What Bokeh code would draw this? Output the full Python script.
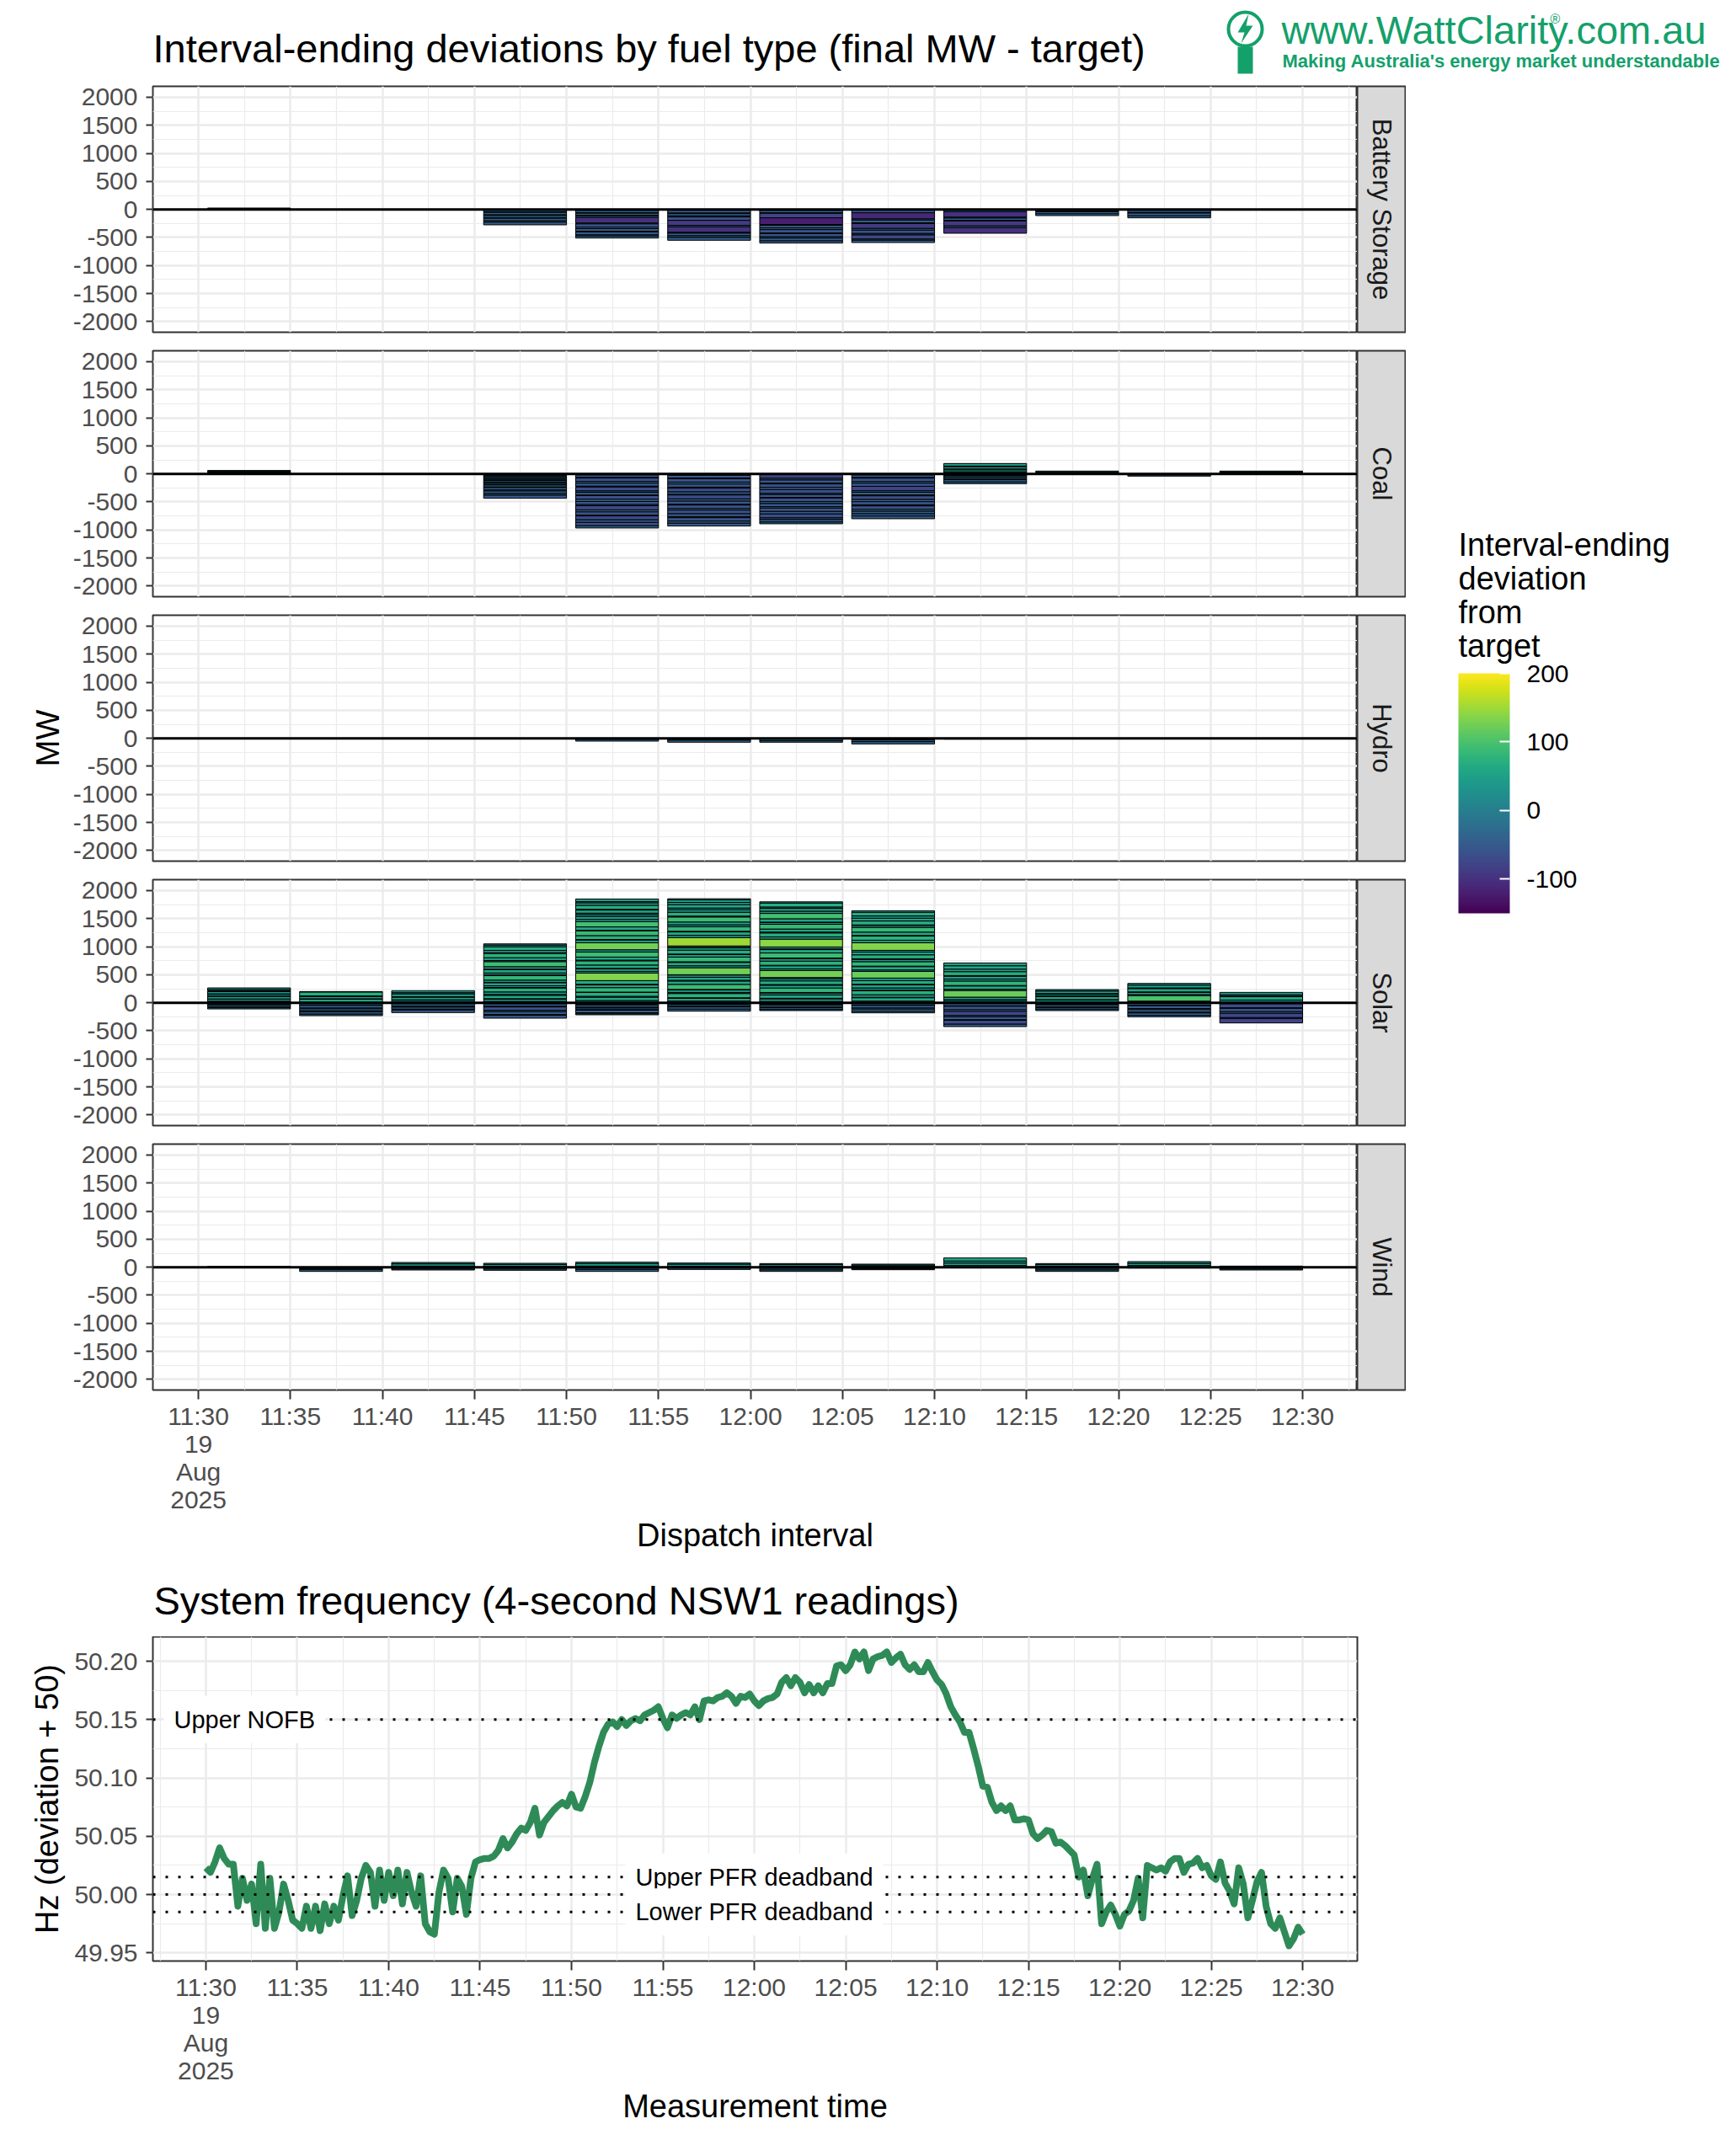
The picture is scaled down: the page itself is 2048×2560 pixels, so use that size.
from math import pi
from bokeh.plotting import figure
from bokeh.models import (ColumnDataSource, LinearColorMapper, ColorBar, FixedTicker,
                          Span, Label, Range1d, Grid)
from bokeh.layouts import row, column
from bokeh.palettes import Viridis256
from bokeh.transform import linear_cmap
from bokeh.embed import file_html
from bokeh.resources import INLINE

FONT = "Liberation Sans"
GREEN_LOGO = "#14A06B"

# ---------------- data ----------------
interval_starts = ["11:30", "11:35", "11:40", "11:45", "11:50", "11:55",
                   "12:00", "12:05", "12:10", "12:15", "12:20", "12:25"]
x_tick_labels = ["11:30\n19\nAug\n2025", "11:35", "11:40", "11:45", "11:50", "11:55",
                 "12:00", "12:05", "12:10", "12:15", "12:20", "12:25", "12:30"]
fuels = ["Battery Storage", "Coal", "Hydro", "Solar", "Wind"]

# per-unit deviations (MW) for each dispatch interval
battery_units = [
    [5, 8, 12],
    [],
    [],
    [-15, -30, -8, -40, -20, -35, -10, -45, -25, -47],
    [-20, -40, -8, -35, -10, -30, -100, -15, -60, -25, -45, -12, -55, -20, -35],
    [-15, -50, -10, -40, -20, -60, -90, -25, -100, -15, -45, -30, -50],
    [-20, -40, -10, -80, -120, -15, -45, -30, -60, -12, -55, -25, -50, -38],
    [-15, -45, -110, -20, -50, -10, -90, -30, -60, -25, -75, -20, -40],
    [-10, -30, -100, -15, -40, -10, -90, -30, -100],
    [-10, -25, -8, -35, -32],
    [-15, -40, -10, -50, -35],
    [-5, -8],
]
coal_units = [
    [8, 12, 6, 10, 14, 10],
    [],
    [],
    [-10, -15, -8, -20, -12, -25, -6, -18, -10, -30, -15, -22, -8, -35, -12, -40, -20, -45, -30, -54],
    [-20, -45, -10, -60, -30, -55, -15, -70, -25, -50, -8, -65, -40, -55, -20, -75, -35, -60, -12,
     -70, -45, -60, -40],
    [-25, -50, -12, -60, -35, -55, -20, -65, -45, -10, -70, -40, -55, -15, -60, -30, -65, -50, -20,
     -60, -38, -50],
    [-80, -30, -55, -15, -60, -40, -70, -20, -50, -10, -65, -35, -55, -25, -60, -45, -70, -30, -45, -30],
    [-20, -45, -12, -60, -30, -55, -80, -25, -50, -15, -65, -40, -55, -20, -60, -35, -45, -40, -48],
    [10, 20, 8, 35, 15, 40, 12, 45, -8, -15, -5, -25, -10, -30, -12, -40, -30],
    [8, 12, 10, 20],
    [-8, -12, -20],
    [10, 15, 8, 17],
]
hydro_units = [
    [], [], [], [],
    [-20, -30],
    [-10, -25, -35],
    [-15, -30, -25],
    [-10, -20, -30, -40],
    [-5, -10],
    [], [], [],
]
solar_units = [
    [20, 8, 35, 5, 45, 10, 30, 6, 40, 12, 25, 29, -5, -12, -20, -8, -30, -10, -25],
    [10, 55, 6, 40, 12, 70, 7, -10, -30, -8, -45, -15, -35, -20, -40, -27],
    [15, 30, 8, 45, 12, 50, 20, 35, -12, -8, -40, -20, -35, -15, -45],
    [25, 40, 8, 60, 15, 45, 70, 10, 30, 55, 6, 40, 80, 12, 35, 60, 8, 45, 90, 20, 50, 75, 15, 40, 65,
     30, 21, -20, -45, -10, -60, -25, -50, -15, -50],
    [40, 60, 15, 70, 5, 80, 50, 10, 65, 135, 30, 45, 8, 60, 75, 12, 55, 90, 40, 125, 50, 8, 70, 85,
     10, 60, 95, 40, 50, 35, 25, 55, 15, 70, 45, 20, 47, -10, -25, -5, -40, -15, -30, -8, -45, -20, -17],
    [30, 50, 10, 75, 20, 45, 8, 90, 60, 12, 55, 40, 5, 125, 35, 60, 10, 85, 45, 8, 70, 40, 25, 10,
     150, 40, 60, 12, 80, 35, 50, 90, 15, 70, 45, 30, 60, 40, 45, 20, -8, -20, -5, -30, -12, -40, -35],
    [25, 45, 10, 60, 35, 8, 80, 50, 12, 65, 40, 20, 125, 30, 55, 8, 75, 45, 10, 90, 60, 12, 35, 140,
     40, 70, 15, 55, 85, 30, 8, 60, 95, 40, 50, 25, 70, 22, -10, -25, -6, -35, -15, -30, -19],
    [30, 60, 8, 45, 70, 12, 40, 55, 10, 65, 45, 120, 25, 60, 8, 80, 40, 12, 70, 50, 30, 135, 45, 75,
     10, 60, 85, 35, 8, 70, 50, 40, 65, 27, -10, -30, -8, -45, -20, -40, -27],
    [15, 30, 10, 45, 120, 20, 60, 8, 80, 35, 50, 12, 70, 45, 60, 50, -15, -40, -8, -60, -30, -75, -20,
     -55, -10, -70, -42],
    [10, 40, 6, 55, 15, 30, 8, 45, 26, -8, -25, -5, -35, -12, -30, -25],
    [10, 20, 100, 15, 40, 8, 60, 12, 50, 30, -10, -35, -8, -50, -20, -45, -15, -40, -27],
    [8, 40, 60, 10, 25, 42, -20, -70, -10, -60, -30, -75, -15, -80],
]
wind_units = [
    [5, 10],
    [-10, -15, -20, -30],
    [20, 40, 25, -15, -20, -15],
    [15, 35, 20, -10, -25, -20],
    [20, 45, 25, -15, -25, -35],
    [15, 40, 20, -15, -25],
    [20, 30, 15, -20, -30, -25],
    [15, 25, 15, -10, -20, -15],
    [30, 45, 35, 55, -10],
    [20, 30, 15, -20, -30, -25],
    [30, 40, 30, -15],
    [8, 12, -15, -20, -15],
]
fuel_units = [battery_units, coal_units, hydro_units, solar_units, wind_units]

colour_low, colour_high = -150, 200
colour_ticks = [-100, 0, 100, 200]
colour_title = ["Interval-ending", "deviation", "from", "target"]
mw_ticks = [-2000, -1500, -1000, -500, 0, 500, 1000, 1500, 2000]

# NSW1 frequency, read every 15 seconds from 11:30
freq_step_min = 0.25
freq_hz = [
    50.023, 50.019, 50.028, 50.040, 50.031, 50.026, 50.026, 49.990, 50.014, 49.995,
    50.009, 49.975, 50.026, 49.971, 50.014, 49.971, 49.985, 50.009, 49.995, 49.978,
    49.975, 49.971, 49.990, 49.971, 49.990, 49.969, 49.992, 49.975, 49.990, 49.978,
    49.999, 50.016, 49.982, 49.995, 50.014, 50.025, 50.019, 49.990, 50.021, 49.995,
    50.019, 49.999, 50.021, 49.992, 50.019, 50.002, 49.990, 50.016, 49.975, 49.968,
    49.966, 50.002, 50.021, 50.014, 49.985, 50.014, 50.007, 49.983, 50.014, 50.028,
    50.030, 50.031, 50.031, 50.033, 50.038, 50.048, 50.040, 50.045, 50.052, 50.057,
    50.055, 50.062, 50.074, 50.051, 50.062, 50.067, 50.072, 50.076, 50.079, 50.076,
    50.086, 50.075, 50.074, 50.084, 50.096, 50.113, 50.127, 50.139, 50.146, 50.148,
    50.144, 50.150, 50.145, 50.149, 50.151, 50.149, 50.154, 50.156, 50.158, 50.161,
    50.151, 50.143, 50.154, 50.151, 50.154, 50.156, 50.154, 50.161, 50.150, 50.166,
    50.167, 50.166, 50.169, 50.170, 50.173, 50.170, 50.164, 50.170, 50.169, 50.172,
    50.166, 50.162, 50.166, 50.168, 50.169, 50.172, 50.182, 50.186, 50.179, 50.186,
    50.182, 50.173, 50.180, 50.173, 50.179, 50.173, 50.181, 50.181, 50.196, 50.197,
    50.192, 50.197, 50.208, 50.202, 50.208, 50.192, 50.202, 50.204, 50.205, 50.208,
    50.199, 50.203, 50.206, 50.197, 50.193, 50.197, 50.191, 50.191, 50.199, 50.191,
    50.184, 50.180, 50.172, 50.161, 50.154, 50.148, 50.139, 50.139, 50.125, 50.110,
    50.093, 50.092, 50.079, 50.072, 50.076, 50.072, 50.076, 50.064, 50.064, 50.065,
    50.064, 50.052, 50.048, 50.051, 50.055, 50.054, 50.044, 50.045, 50.042, 50.038,
    50.034, 50.015, 50.021, 49.999, 50.014, 50.026, 49.975, 49.985, 49.991, 49.983,
    49.973, 49.983, 49.986, 49.995, 50.014, 49.980, 50.025, 50.023, 50.021, 50.023,
    50.020, 50.028, 50.031, 50.031, 50.019, 50.026, 50.027, 50.031, 50.023, 50.025,
    50.016, 50.013, 50.028, 50.010, 50.003, 49.992, 50.023, 50.009, 49.980, 49.995,
    50.011, 50.019, 49.990, 49.975, 49.971, 49.980, 49.968, 49.956, 49.962, 49.972,
    49.966,
]
hz_ticks = [49.95, 50, 50.05, 50.1, 50.15, 50.2]
hz_tick_labels = ["49.95", "50.00", "50.05", "50.10", "50.15", "50.20"]
ref_lines = [50.15, 50.015, 50.0, 49.985]
ref_labels = [("Upper NOFB", 50.15, -2.3, "left"),
              ("Upper PFR deadband", 50.015, 30.0, "center"),
              ("Lower PFR deadband", 49.985, 30.0, "center")]

# ---------------- helpers ----------------
def to_min(s):
    h, m = s.split(":")
    return int(h) * 60 + int(m) - (11 * 60 + 30)

interval_min = [to_min(s) for s in interval_starts]
x_major = list(range(0, 61, 5))
x_minor = [v + 2.5 for v in range(-5, 61, 5)]
x_over = {t: lab for t, lab in zip(x_major, x_tick_labels)}
y_minor = [v + 250 for v in range(-2500, 2001, 500)]

GRID = "#EBEBEB"
TICKC = "#333333"
TXT = "#4D4D4D"

W_TOTAL = 2048
LEFT = 181
FRAME_W = 1430
STRIP_W = 58
PANEL_H = 292
PAD_T = 11
GAP_B = 11
AXIS_B = 210
HEAD_H = 91


def style_y(ax, ticks, over, label=None, standoff=6):
    ax.ticker = FixedTicker(ticks=ticks)
    ax.major_label_overrides = over
    ax.axis_line_color = None
    ax.major_tick_line_color = TICKC
    ax.major_tick_line_width = 2
    ax.major_tick_out = 8
    ax.major_tick_in = 0
    ax.minor_tick_line_color = None
    ax.major_label_text_font = FONT
    ax.major_label_text_font_size = "30px"
    ax.major_label_text_color = TXT
    ax.major_label_standoff = 10
    if label:
        ax.axis_label = label
        ax.axis_label_text_font = FONT
        ax.axis_label_text_font_size = "38px"
        ax.axis_label_text_font_style = "normal"
        ax.axis_label_text_color = "black"
        ax.axis_label_standoff = standoff


def style_x(ax, label):
    ax.ticker = FixedTicker(ticks=x_major, minor_ticks=x_minor)
    ax.major_label_overrides = x_over
    ax.axis_line_color = None
    ax.major_tick_line_color = TICKC
    ax.major_tick_line_width = 2
    ax.major_tick_out = 11
    ax.major_tick_in = 0
    ax.minor_tick_line_color = None
    ax.major_label_text_font = FONT
    ax.major_label_text_font_size = "30px"
    ax.major_label_text_color = TXT
    ax.major_label_text_line_height = 1.0
    ax.major_label_standoff = 3
    ax.axis_label = label
    ax.axis_label_text_font = FONT
    ax.axis_label_text_font_size = "38px"
    ax.axis_label_text_font_style = "normal"
    ax.axis_label_text_color = "black"
    ax.axis_label_standoff = 2


def style_grid(g, ticker):
    g.ticker = ticker
    g.grid_line_color = GRID
    g.grid_line_width = 2.5
    g.minor_grid_line_color = GRID
    g.minor_grid_line_width = 1.2


def blank_fig(w, h, xr, yr):
    f = figure(width=w, height=h, x_range=Range1d(*xr), y_range=Range1d(*yr),
               output_backend="svg", toolbar_location=None,
               x_axis_location=None, y_axis_location=None,
               min_border_left=0, min_border_right=0, min_border_top=0, min_border_bottom=0)
    f.grid.visible = False
    f.outline_line_color = None
    f.background_fill_color = "white"
    f.border_fill_color = "white"
    return f


def stack_source(units):
    L, R, B, T, V = [], [], [], [], []
    for start, vals in zip(interval_min, units):
        pos, neg = 0, 0
        for v in vals:
            if v >= 0:
                b, t = pos, pos + v
                pos = t
            else:
                b, t = neg + v, neg
                neg = b
            L.append(start + 0.5)
            R.append(start + 5.0)
            B.append(b)
            T.append(t)
            V.append(v)
    return ColumnDataSource(dict(left=L, right=R, bottom=B, top=T, value=V))


def make_facet(name, units, bottom_axis, ylabel):
    bb = AXIS_B if bottom_axis else GAP_B
    p = figure(width=LEFT + FRAME_W, height=PAD_T + PANEL_H + bb,
               x_range=Range1d(-2.475, 62.975), y_range=Range1d(-2190, 2195),
               output_backend="svg", toolbar_location=None,
               x_axis_location="below" if bottom_axis else None, y_axis_location="left",
               min_border_left=LEFT, min_border_right=0, min_border_top=PAD_T, min_border_bottom=bb)
    p.background_fill_color = "white"
    p.border_fill_color = "white"
    p.outline_line_color = TICKC
    p.outline_line_width = 2
    style_y(p.yaxis[0], mw_ticks, {t: str(t) for t in mw_ticks}, "MW" if ylabel else None, 6)
    style_grid(p.ygrid[0], FixedTicker(ticks=mw_ticks, minor_ticks=y_minor))
    xt = FixedTicker(ticks=x_major, minor_ticks=x_minor)
    if bottom_axis:
        style_x(p.xaxis[0], "Dispatch interval")
    if len(p.xgrid) > 0:
        style_grid(p.xgrid[0], xt)
    else:
        g = Grid(dimension=0)
        style_grid(g, xt)
        p.add_layout(g)
    src = stack_source(units)
    p.quad(left="left", right="right", bottom="bottom", top="top", source=src,
           fill_color=linear_cmap("value", Viridis256, colour_low, colour_high),
           line_color="black", line_width=1)
    p.add_layout(Span(location=0, dimension="width", line_color="black", line_width=3))
    return p


def make_strip(name, bb):
    s = figure(width=STRIP_W, height=PAD_T + PANEL_H + bb, x_range=Range1d(0, 1), y_range=Range1d(0, 1),
               output_backend="svg", toolbar_location=None,
               x_axis_location=None, y_axis_location=None,
               min_border_left=0, min_border_right=0, min_border_top=PAD_T, min_border_bottom=bb)
    s.grid.visible = False
    s.background_fill_color = "#D9D9D9"
    s.border_fill_color = "white"
    s.outline_line_color = TICKC
    s.outline_line_width = 2
    s.add_layout(Label(x=0.5, y=0.5, text=name, angle=-pi / 2, text_align="center",
                       text_baseline="middle", text_font=FONT, text_font_size="31px",
                       text_color="#1A1A1A"))
    return s


# ---------------- header ----------------
header = blank_fig(W_TOTAL, HEAD_H, (0, W_TOTAL), (0, HEAD_H))
header.add_layout(Label(x=181, y=HEAD_H - 57, text="Interval-ending deviations by fuel type (final MW - target)",
                        text_align="left", text_baseline="middle", text_font=FONT,
                        text_font_size="47px", text_color="black"))
header.circle(x=[1478], y=[HEAD_H - 34], radius=20, fill_color=None, line_color=GREEN_LOGO, line_width=4)
header.quad(left=[1469], right=[1487], bottom=[HEAD_H - 87], top=[HEAD_H - 55],
            fill_color=GREEN_LOGO, line_color=None)
header.patch(x=[1482, 1469, 1477, 1473, 1487, 1479],
             y=[HEAD_H - 16, HEAD_H - 38, HEAD_H - 38, HEAD_H - 51, HEAD_H - 30, HEAD_H - 30],
             fill_color=GREEN_LOGO, line_color=None)
header.add_layout(Label(x=1521, y=HEAD_H - 35, text="www.WattClarity.com.au", text_align="left",
                        text_baseline="middle", text_font=FONT, text_font_size="47px",
                        text_color=GREEN_LOGO))
header.add_layout(Label(x=1840, y=HEAD_H - 22, text="®", text_align="left", text_baseline="middle",
                        text_font=FONT, text_font_size="16px", text_color=GREEN_LOGO))
header.add_layout(Label(x=1522, y=HEAD_H - 72, text="Making Australia's energy market understandable",
                        text_align="left", text_baseline="middle", text_font=FONT,
                        text_font_size="22px", text_font_style="bold", text_color=GREEN_LOGO))

# ---------------- facets ----------------
facet_rows = []
for i, (name, units) in enumerate(zip(fuels, fuel_units)):
    last = i == len(fuels) - 1
    bb = AXIS_B if last else GAP_B
    facet_rows.append(row(make_facet(name, units, last, name == "Hydro"), make_strip(name, bb)))

MID_H = 4 * (PAD_T + PANEL_H + GAP_B) + PAD_T + PANEL_H + AXIS_B
legend_w = W_TOTAL - (LEFT + FRAME_W + STRIP_W)
legend_fig = blank_fig(legend_w, MID_H, (0, legend_w), (0, MID_H))
mapper = LinearColorMapper(palette=Viridis256, low=colour_low, high=colour_high)
bar_bottom = MID_H - (1084 - HEAD_H)
cb = ColorBar(color_mapper=mapper, ticker=FixedTicker(ticks=colour_ticks),
              major_label_overrides={t: str(t) for t in colour_ticks},
              width=61, height=285, location=(62, bar_bottom), padding=0, margin=0,
              major_label_text_font=FONT, major_label_text_font_size="30px",
              major_label_text_color="black", label_standoff=20,
              major_tick_line_color="white", major_tick_line_width=2,
              major_tick_in=12, major_tick_out=0,
              bar_line_color=None, border_line_color=None, background_fill_color=None)
legend_fig.add_layout(cb)
for k, line in enumerate(colour_title):
    legend_fig.add_layout(Label(x=62, y=MID_H - (646 - HEAD_H) - 40 * k, text=line, text_align="left",
                                text_baseline="middle", text_font=FONT, text_font_size="38px",
                                text_color="black"))

middle = row(column(*facet_rows), legend_fig)

# ---------------- frequency ----------------
SEP_H = 83
sep = blank_fig(W_TOTAL, SEP_H, (0, W_TOTAL), (0, SEP_H))
sep.add_layout(Label(x=182, y=43, text="System frequency (4-second NSW1 readings)",
                     text_align="left", text_baseline="middle", text_font=FONT,
                     text_font_size="47px", text_color="black"))

FREQ_H = 385
FREQ_B = 224
fp = figure(width=W_TOTAL, height=FREQ_H + FREQ_B,
            x_range=Range1d(-2.9, 62.99), y_range=Range1d(49.943, 50.221),
            output_backend="svg", toolbar_location=None,
            min_border_left=LEFT, min_border_right=W_TOTAL - LEFT - FRAME_W,
            min_border_top=0, min_border_bottom=FREQ_B)
fp.background_fill_color = "white"
fp.border_fill_color = "white"
fp.outline_line_color = TICKC
fp.outline_line_width = 2
style_y(fp.yaxis[0], hz_ticks, dict(zip(hz_ticks, hz_tick_labels)), "Hz (deviation + 50)", 8)
style_grid(fp.ygrid[0], FixedTicker(ticks=hz_ticks,
                                    minor_ticks=[49.975, 50.025, 50.075, 50.125, 50.175]))
style_x(fp.xaxis[0], "Measurement time")
style_grid(fp.xgrid[0], FixedTicker(ticks=x_major, minor_ticks=x_minor))

freq_src = ColumnDataSource(dict(t=[i * freq_step_min for i in range(len(freq_hz))], hz=freq_hz))
fp.line(x="t", y="hz", source=freq_src, line_color="#2E8B57", line_width=8, line_join="round")
for v in ref_lines:
    fp.add_layout(Span(location=v, dimension="width", line_color="black", line_width=3,
                       line_dash="3 12"))
for text, yv, xv, align in ref_labels:
    fp.add_layout(Label(x=xv, y=yv, text=text, text_align=align, text_baseline="middle",
                        text_font=FONT, text_font_size="29px", text_color="black",
                        background_fill_color="white", padding=12))

layout = column(row(header), middle, row(sep), fp)

open("out.html", "w").write(file_html(layout, INLINE))
